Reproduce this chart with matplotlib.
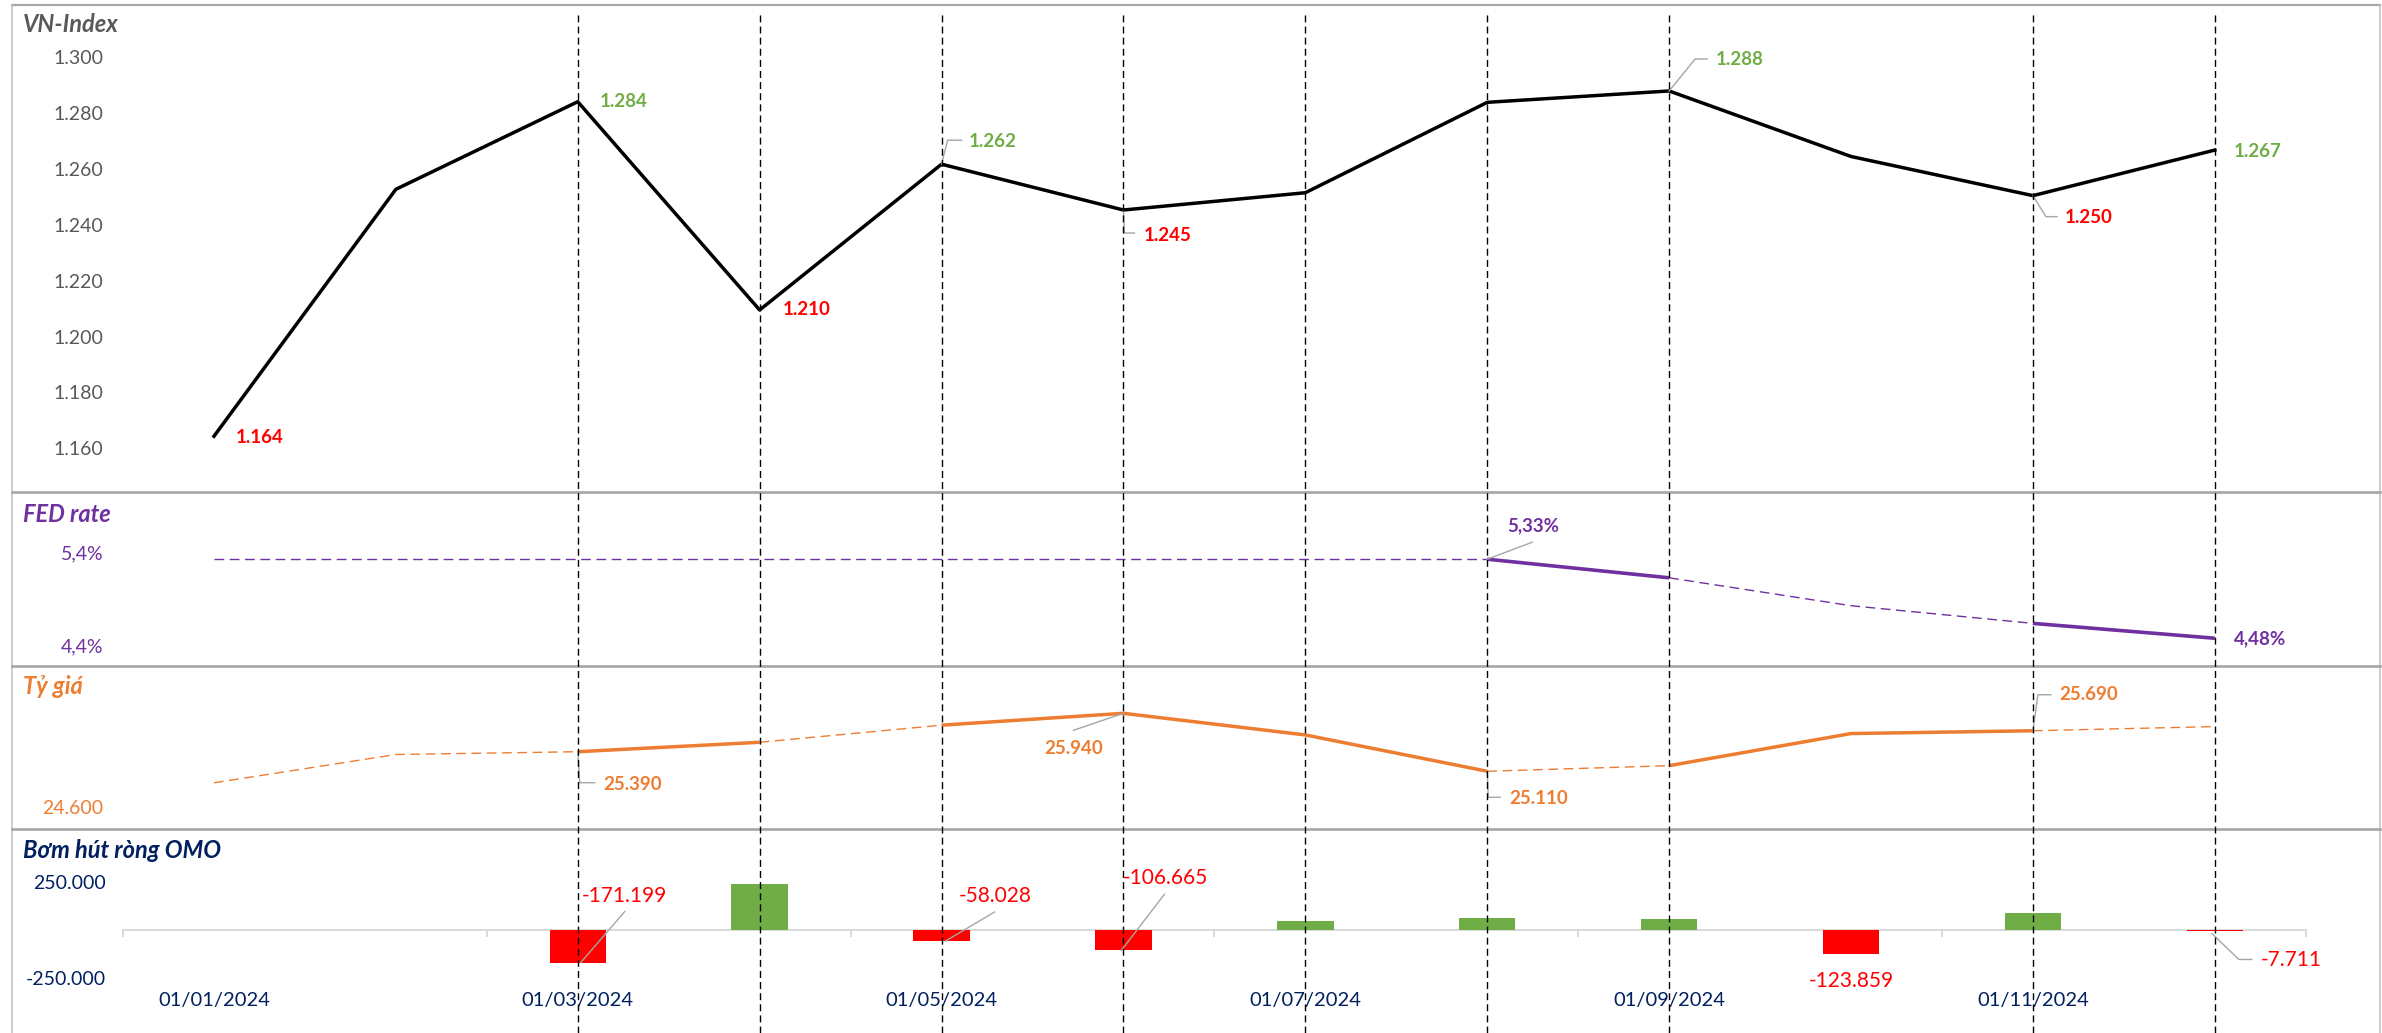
import numpy as np
import matplotlib
matplotlib.use("Agg")
import matplotlib.pyplot as plt
from matplotlib.lines import Line2D
from matplotlib.transforms import IdentityTransform

plt.rcParams['font.family'] = ['Lato', 'DejaVu Sans']

# ---------------- data ----------------
months = ["01/01/2024", "01/02/2024", "01/03/2024", "01/04/2024", "01/05/2024", "01/06/2024",
          "01/07/2024", "01/08/2024", "01/09/2024", "01/10/2024", "01/11/2024", "01/12/2024"]
vnindex = [1164.31, 1252.73, 1284.09, 1209.52, 1261.72, 1245.32,
           1251.51, 1283.87, 1287.94, 1264.48, 1250.46, 1266.78]
fed_rate = [5.33, 5.33, 5.33, 5.33, 5.33, 5.33, 5.33, 5.33, 5.13, 4.83, 4.64, 4.48]
usd_vnd = [24945, 25350, 25390, 25525, 25770, 25940, 25630, 25110, 25190, 25650, 25690, 25750]
omo_net = [np.nan, np.nan, -171199, 240000, -58028, -106665, 48000, 62000, 60000, -123859, 88000, -7711]

# segment k joins month k and k+1: True = solid, False = dashed
fed_solid = [False, False, False, False, False, False, False, True, False, False, True]
fx_solid = [False, False, True, False, True, True, True, False, True, True, False]

marked_months = ["01/03/2024", "01/04/2024", "01/05/2024", "01/06/2024", "01/07/2024",
                 "01/08/2024", "01/09/2024", "01/11/2024", "01/12/2024"]

vn_ticks = [1160, 1180, 1200, 1220, 1240, 1260, 1280, 1300]
fed_ticks = [4.4, 5.4]
fx_ticks = [24600]
omo_ticks = [-250000, 250000]
x_labels = months[::2]

# labelled points: index -> 'high' / 'low'
vn_marks = {0: 'low', 2: 'high', 3: 'low', 4: 'high', 5: 'low', 8: 'high', 10: 'low', 11: 'high'}
fed_marks = [7, 11]
fx_marks = [2, 5, 7, 10]
omo_marks = [2, 4, 5, 9, 11]

# ---------------- style ----------------
GREEN = '#70AD47'
RED = '#FF0000'
PURPLE = '#7030A0'
ORANGE = '#ED7D31'
NAVY = '#002060'
GREY_TXT = '#595959'
LEADER = '#A6A6A6'
FRAME = '#A6A6A6'

W, H = 2382, 1033
FS = 13.5
FS_TICK = 14

fig = plt.figure(figsize=(W / 100, H / 100), dpi=100)


def px_rect(x0, y0, x1, y1):
    return [x0 / W, 1 - y1 / H, (x1 - x0) / W, (y1 - y0) / H]


XL, XR = 123.0, 2305.8
x = np.arange(len(months))


def fmt_dot(v):
    return f"{v:,.0f}".replace(",", ".")


def fmt_pct(v, nd):
    return f"{v:.{nd}f}%".replace(".", ",")


def base_axes(rect, ylim, ticks, ticklabels, color, pad):
    ax = fig.add_axes(px_rect(*rect))
    ax.set_xlim(-0.5, 11.5)
    ax.set_ylim(*ylim)
    for s in ax.spines.values():
        s.set_visible(False)
    ax.patch.set_alpha(0)
    ax.set_xticks([])
    ax.set_yticks(ticks)
    ax.set_yticklabels(ticklabels)
    ax.tick_params(axis='y', length=0, pad=pad, labelsize=FS_TICK, labelcolor=color)
    return ax


def draw_runs(ax, xs, ys, solid, color, lw_solid, lw_dash):
    k = 0
    n = len(solid)
    while k < n:
        j = k
        while j + 1 < n and solid[j + 1] == solid[k]:
            j += 1
        seg_x = xs[k:j + 2]
        seg_y = ys[k:j + 2]
        if solid[k]:
            ax.plot(seg_x, seg_y, color=color, lw=lw_solid, solid_capstyle='butt',
                    solid_joinstyle='round', zorder=3)
        else:
            ax.plot(seg_x, seg_y, color=color, lw=lw_dash, dashes=(7, 4), zorder=3)
        k = j + 1


def leader(ax, xv, yv, pts):
    px, py = ax.transData.transform((xv, yv))
    xs = [px + dx for dx, dy in pts]
    ys = [py + dy for dx, dy in pts]
    fig.add_artist(Line2D(xs, ys, transform=IdentityTransform(), color=LEADER, lw=1.0, zorder=4))


def label(ax, xv, yv, text, off, color, ha='left', weight='bold', size=FS):
    ax.annotate(text, xy=(xv, yv), xytext=off, textcoords='offset pixels',
                ha=ha, va='center', color=color, fontsize=size, fontweight=weight,
                annotation_clip=False, zorder=5)


# ---------------- VN-Index ----------------
ax1 = base_axes((XL, 10, XR, 490), (1145.07, 1316.93), vn_ticks,
                [fmt_dot(t) for t in vn_ticks], GREY_TXT, 14)
ax1.plot(x, vnindex, color='black', lw=2.5, solid_joinstyle='round', zorder=3)

vn_style = {
    0: ((22, -1), None),
    2: ((22, 0), None),
    3: ((23, 0), None),
    4: ((27, 23), [(0, 0), (6, 24), (20, 24)]),
    5: ((20, -25), [(0, 0), (1, -23), (11, -23)]),
    8: ((47, 31), [(0, 0), (26, 32), (38, 32)]),
    10: ((32, -22), [(0, 0), (13, -21), (24, -21)]),
    11: ((19, -1), None),
}
for i, kind in vn_marks.items():
    off, pts = vn_style[i]
    if pts:
        leader(ax1, x[i], vnindex[i], pts)
    label(ax1, x[i], vnindex[i], fmt_dot(round(vnindex[i])), off,
          GREEN if kind == 'high' else RED)

# ---------------- FED rate ----------------
ax2 = base_axes((XL, 496, XR, 664), (4.2032, 6.0097), fed_ticks,
                [fmt_pct(t, 1) for t in fed_ticks], PURPLE, 14)
draw_runs(ax2, x, fed_rate, fed_solid, PURPLE, 2.6, 1.0)
fed_style = {7: ((46, 33), [(0, 0), (45, 17)], 'center'),
             11: ((19, 0), None, 'left')}
for i in fed_marks:
    off, pts, ha = fed_style[i]
    if pts:
        leader(ax2, x[i], fed_rate[i], pts)
    label(ax2, x[i], fed_rate[i], fmt_pct(fed_rate[i], 2), off, PURPLE, ha=ha)

# ---------------- Exchange rate ----------------
ax3 = base_axes((XL, 670, XR, 827), (24312, 26560), fx_ticks,
                [fmt_dot(t) for t in fx_ticks], ORANGE, 14)
draw_runs(ax3, x, usd_vnd, fx_solid, ORANGE, 2.5, 1.0)
fx_style = {2: ((26, -33), [(0, 0), (2, -31), (17, -31)], 'left'),
            5: ((-50, -35), [(0, 0), (-50, -17)], 'center'),
            7: ((22, -27), [(0, 0), (1, -26), (13, -26)], 'left'),
            10: ((26, 36), [(0, 0), (5, 36), (18, 36)], 'left')}
for i in fx_marks:
    off, pts, ha = fx_style[i]
    leader(ax3, x[i], usd_vnd[i], pts)
    label(ax3, x[i], usd_vnd[i], fmt_dot(usd_vnd[i]), off, ORANGE, ha=ha)

# ---------------- OMO net injection ----------------
ax4 = base_axes((XL, 833, XR, 1033), (-542105, 510526), omo_ticks,
                [fmt_dot(t) for t in omo_ticks], NAVY, 12.5)
omo = np.array(omo_net, dtype=float)
has = ~np.isnan(omo)
ax4.bar(x[has], omo[has], width=0.31,
        color=[GREEN if v > 0 else RED for v in omo[has]], zorder=2)
ax4.spines['bottom'].set_visible(True)
ax4.spines['bottom'].set_position(('data', 0))
ax4.spines['bottom'].set_color('#D9D9D9')
ax4.spines['bottom'].set_linewidth(1.4)
ax4.spines['bottom'].set_zorder(1.5)
ax4.set_xticks(np.arange(-0.5, 12, 2))
ax4.set_xticklabels([])
ax4.set_xticks(x[::2], minor=True)
ax4.set_xticklabels(x_labels, minor=True)
ax4.tick_params(axis='x', which='major', direction='out', length=5, width=1.4, color='#D9D9D9')
ax4.tick_params(axis='x', which='minor', length=0, pad=45, labelsize=14.5, labelcolor=NAVY)

omo_style = {2: ((47, 67), [(3, 0), (47, 51)], 'center'),
             4: ((54, 45), [(4, 0), (53, 29)], 'center'),
             5: ((42, 72), [(-2, 0), (41, 56)], 'center'),
             9: ((0, -27), None, 'center'),
             11: ((46, -29), [(-3, -2), (24, -28), (37, -28)], 'left')}
for i in omo_marks:
    off, pts, ha = omo_style[i]
    if pts:
        leader(ax4, x[i], omo[i], pts)
    label(ax4, x[i], omo[i], fmt_dot(omo[i]), off, RED, ha=ha, weight='normal', size=15)

# ---------------- month markers across all panels ----------------
axv = fig.add_axes(px_rect(XL, 12, XR, H), zorder=10)
axv.set_xlim(-0.5, 11.5)
axv.set_ylim(0, 1)
axv.axis('off')
axv.vlines([months.index(m) for m in marked_months], 0, 1, color='black',
           lw=1.0, linestyles=(0, (5, 3)))

# ---------------- panel frames and titles ----------------
def fline(x0, y0, x1, y1, color, lw):
    fig.add_artist(Line2D([x0 / W, x1 / W], [1 - y0 / H, 1 - y1 / H],
                          transform=fig.transFigure, color=color, lw=lw, zorder=1))

fline(12, 5, 2380, 5, FRAME, 1.6)
fline(12, 5, 12, H, '#BFBFBF', 1.1)
fline(2380, 5, 2380, H, '#BFBFBF', 1.1)
for yy in (492, 666, 829):
    fline(12, yy, 2380, yy, FRAME, 1.9)

titles = [("VN-Index", GREY_TXT, 25), ("FED rate", PURPLE, 514),
          ("Tỷ giá", ORANGE, 686), ("Bơm hút ròng OMO", NAVY, 851)]
for txt, col, yy in titles:
    fig.text(23 / W, 1 - yy / H, txt, color=col, fontsize=17, fontweight='bold',
             fontstyle='italic', ha='left', va='center')

fig.savefig("out.png", dpi=100)
